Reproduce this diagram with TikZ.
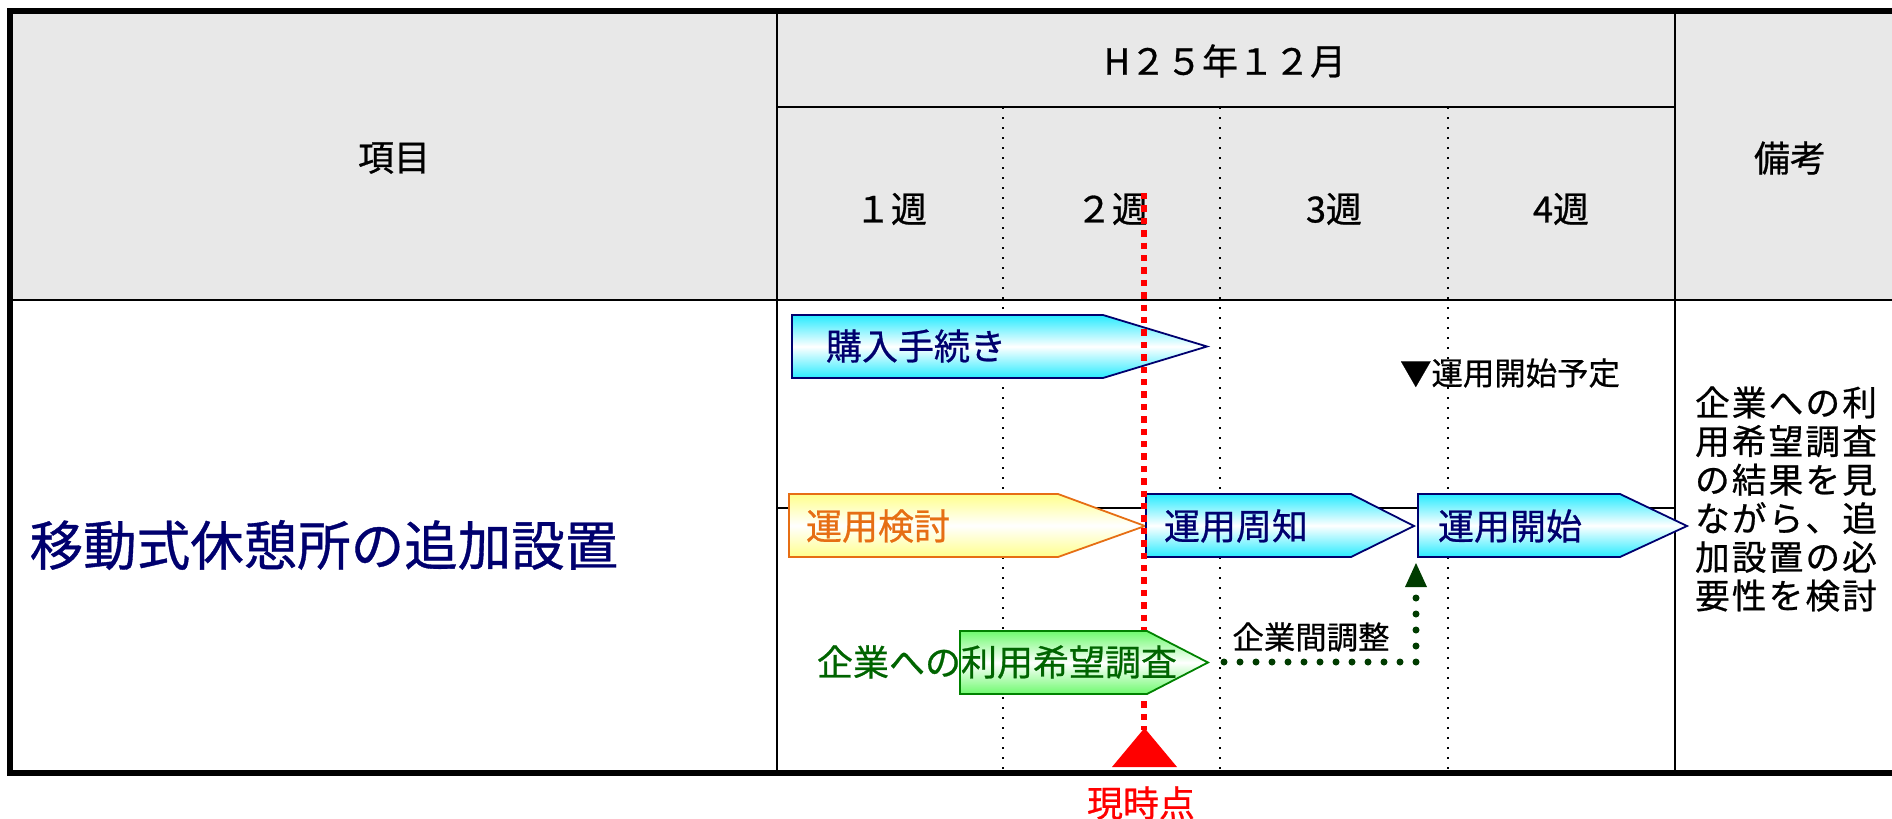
\documentclass[tikz,border=0pt]{standalone}
\usepackage{fontspec}
\setmainfont{Noto Sans CJK JP}[FakeBold=0.7]
\definecolor{navyT}{RGB}{0,0,110}
\definecolor{cyanA}{RGB}{40,235,255}
\definecolor{yelA}{RGB}{255,255,140}
\definecolor{orgA}{RGB}{230,110,20}
\definecolor{grnA}{RGB}{110,250,110}
\definecolor{grnB}{RGB}{0,130,0}
\definecolor{grnT}{RGB}{0,100,0}
\definecolor{grnD}{RGB}{0,60,0}
\definecolor{hdrgray}{RGB}{232,232,232}
\newcommand\fivech[5]{\makebox[18.4pt]{#1}\makebox[18.4pt]{#2}\makebox[18.4pt]{#3}\makebox[18.4pt]{#4}\makebox[18.4pt]{#5}}
\begin{document}
\begin{tikzpicture}[x=0.5pt,y=-0.5pt,
  thinline/.style={line width=1.2pt, black},
  thickline/.style={line width=3pt, black},
  gridline/.style={line width=1.2pt, black, dash pattern=on 1.2pt off 3.8pt},
  hdr/.style={font=\fontsize{18}{20}\selectfont, text=black, inner sep=0pt},
  bluearrow/.style={draw=navyT, line width=0.9pt, top color=cyanA, bottom color=cyanA, middle color=white},
  yelarrow/.style={draw=orgA, line width=0.9pt, top color=yelA, bottom color=yelA, middle color=white},
  grnarrow/.style={draw=grnB, line width=0.9pt, top color=grnA, bottom color=grnA, middle color=white},
  bartext/.style={font=\fontsize{18}{20}\selectfont, inner sep=0pt},
  smalltext/.style={font=\fontsize{15.7}{18}\selectfont, inner sep=0pt, text=black},
  reddash/.style={draw=red, line width=3pt, dash pattern=on 3.2pt off 3pt},
  gdots/.style={draw=grnD, line width=3.5pt, line cap=round, dash pattern=on 0pt off 8pt}
]
\useasboundingbox (0,0) rectangle (1892,819);
% header background
\fill[hdrgray] (10,11) rectangle (1892,300);
% grid lines
\foreach \gx in {1003,1220,1448} \draw[gridline] (\gx,107) -- (\gx,773);
\draw[thinline] (777,11) -- (777,773);
\draw[thinline] (1675,11) -- (1675,773);
\draw[thinline] (777,107) -- (1675,107);
\draw[thinline] (10,300) -- (1892,300);
\draw[thinline] (777,508) -- (1675,508);
\draw[thickline] (1892,11) -- (10,11) -- (10,773) -- (1892,773);
% header texts
\node[hdr] (koumoku) at (394,158) {項目};
\node[hdr] (month) at (1225,61) {H２５年１２月};
\node[hdr] (w1) at (891,209) {１週};
\node[hdr] (w2) at (1112,209) {２週};
\node[hdr] (w3) at (1334,209) {3週};
\node[hdr] (w4) at (1561,209) {4週};
\node[hdr] (bikou) at (1790,158) {備考};
% left title
\node[font=\fontsize{26.75}{30}\selectfont, text=navyT, inner sep=0pt] (title) at (324,545) {移動式休憩所の追加設置};
% note
\node[text=black, inner sep=0pt, align=left, font=\fontsize{17.3}{19.3}\selectfont] (note) at (1786,499)
  {\fivech{企}{業}{へ}{の}{利}\\\fivech{用}{希}{望}{調}{査}\\\fivech{の}{結}{果}{を}{見}\\\fivech{な}{が}{ら}{、}{追}\\\fivech{加}{設}{置}{の}{必}\\\fivech{要}{性}{を}{検}{討}};
% bars
\draw[bluearrow] (792,315) -- (1103,315) -- (1207,346.5) -- (1103,378) -- (792,378) -- cycle;
\node[bartext, text=navyT] (kounyu) at (916,346) {購入手続き};
\draw[yelarrow] (789,494) -- (1058,494) -- (1145,526) -- (1058,557) -- (789,557) -- cycle;
\node[bartext, text=orgA] (kentou) at (878,526) {運用検討};
\draw[bluearrow] (1146,494) -- (1351,494) -- (1414,526) -- (1351,557) -- (1146,557) -- cycle;
\node[bartext, text=navyT] (shuuchi) at (1236,526) {運用周知};
\draw[bluearrow] (1418,494) -- (1620,494) -- (1687,526) -- (1620,557) -- (1418,557) -- cycle;
\node[bartext, text=navyT] (kaishi) at (1510,526) {運用開始};
\node[smalltext] (yotei) at (1510,373) {▼運用開始予定};
% current time
\coordinate (redtop) at (1144,193);
\coordinate (redbot) at (1144,730);
\draw[reddash] (redtop) -- (redbot);
\fill[red] (1112,767) -- (1144.5,728) -- (1177,767) -- cycle;
\node[font=\fontsize{18}{20}\selectfont, text=red, inner sep=0pt] (genji) at (1141,803) {現時点};
% green bar
\draw[grnarrow] (960,631) -- (1147,631) -- (1208,662.5) -- (1147,694) -- (960,694) -- cycle;
\node[bartext, text=grnT] (chousa) at (997,662) {企業への利用希望調査};
% adjustment connector
\node[smalltext] (kigyoukan) at (1311,637) {企業間調整};
\coordinate (gsStart) at (1224,662);
\coordinate (gsEnd) at (1416,598);
\draw[gdots] (gsStart) -| (gsEnd);
\fill[grnD] (1405,587) -- (1416,563) -- (1427,587) -- cycle;
\end{tikzpicture}
\end{document}
